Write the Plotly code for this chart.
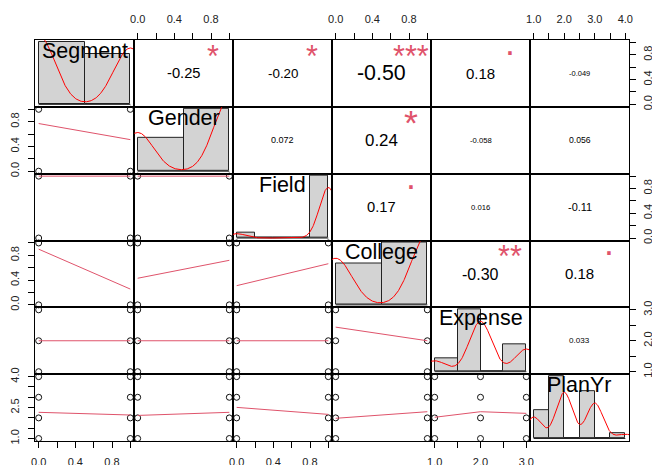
import numpy as np
import plotly.graph_objects as go
from plotly.subplots import make_subplots

# ---------------- data ----------------
var_names = ["Segment", "Gender", "Field", "College", "Expense", "PlanYr"]

segment_vals = [0, 1];        segment_counts = [55, 45]
gender_vals = [0, 1];         gender_counts = [35, 65]
field_vals = [0, 1];          field_counts = [8, 92]
college_vals = [0, 1];        college_counts = [40, 60]
expense_vals = [1, 2, 3];     expense_counts = [13, 60, 27]
planyr_vals = [1, 2, 3, 4];   planyr_counts = [20, 43, 33, 4]

segment_breaks = [0, 0.5, 1.0]
gender_breaks = [0, 0.5, 1.0]
field_breaks = [0, 0.2, 0.4, 0.6, 0.8, 1.0]
college_breaks = [0, 0.5, 1.0]
expense_breaks = [1.0, 1.5, 2.0, 2.5, 3.0]
planyr_breaks = [1.0, 1.5, 2.0, 2.5, 3.0, 3.5, 4.0]

bandwidth_override = {"Expense": 0.245}

# correlations (upper triangle, row by row)
corr_values = [-0.25, -0.20, -0.50, 0.18, -0.049,
               0.072, 0.24, -0.058, 0.056,
               0.17, 0.016, -0.11,
               -0.30, 0.18,
               0.033]
corr_labels = ["-0.25", "-0.20", "-0.50", "0.18", "-0.049",
               "0.072", "0.24", "-0.058", "0.056",
               "0.17", "0.016", "-0.11",
               "-0.30", "0.18",
               "0.033"]
corr_signif = ["*", "*", "***", ".", "",
               "", "*", "", "",
               ".", "", "",
               "**", ".",
               ""]

# lowess fitted values at the unique x values of each lower panel (row, col)
smooth_2_1 = [0.77, 0.51]
smooth_3_1 = [1.0, 1.0]
smooth_3_2 = [1.0, 1.0]
smooth_4_1 = [0.90, 0.255]
smooth_4_2 = [0.43, 0.72]
smooth_4_3 = [0.31, 0.665]
smooth_5_1 = [2.0, 2.0]
smooth_5_2 = [2.0, 2.0]
smooth_5_3 = [2.0, 2.0]
smooth_5_4 = [2.44, 2.0]
smooth_6_1 = [2.27, 2.14]
smooth_6_2 = [2.12, 2.27]
smooth_6_3 = [2.51, 2.17]
smooth_6_4 = [1.98, 2.30]
smooth_6_5 = [2.03, 2.30, 2.22]

# axis ticks
unit_ticks = [0, 0.2, 0.4, 0.6, 0.8, 1.0]
unit_ticktext = ["0.0", "", "0.4", "", "0.8", ""]
expense_ticks = [1.0, 1.5, 2.0, 2.5, 3.0]
expense_ticktext = ["1.0", "", "2.0", "", "3.0"]
planyr_ticks = [1.0, 1.5, 2.0, 2.5, 3.0, 3.5, 4.0]
planyr_xticktext = ["1.0", "", "2.0", "", "3.0", "", "4.0"]
planyr_yticktext = ["1.0", "", "", "2.5", "", "", "4.0"]

# ---------------- assemble ----------------
vals = [segment_vals, gender_vals, field_vals, college_vals, expense_vals, planyr_vals]
counts = [segment_counts, gender_counts, field_counts, college_counts, expense_counts, planyr_counts]
breaks = [segment_breaks, gender_breaks, field_breaks, college_breaks, expense_breaks, planyr_breaks]
smooth = {(2, 1): smooth_2_1, (3, 1): smooth_3_1, (3, 2): smooth_3_2,
          (4, 1): smooth_4_1, (4, 2): smooth_4_2, (4, 3): smooth_4_3,
          (5, 1): smooth_5_1, (5, 2): smooth_5_2, (5, 3): smooth_5_3, (5, 4): smooth_5_4,
          (6, 1): smooth_6_1, (6, 2): smooth_6_2, (6, 3): smooth_6_3, (6, 4): smooth_6_4,
          (6, 5): smooth_6_5}
xticks_all = [(unit_ticks, unit_ticktext)] * 4 + [(expense_ticks, expense_ticktext),
                                                  (planyr_ticks, planyr_xticktext)]
yticks_all = [(unit_ticks, unit_ticktext)] * 4 + [(expense_ticks, expense_ticktext),
                                                  (planyr_ticks, planyr_yticktext)]

N = 6
FONT = "Liberation Sans, Arial, sans-serif"
PANEL_W = (652 - 35 - 23) / N
SMOOTH_COL = "#DF536B"
CW = {c: 0.556 for c in "0123456789"}
CW.update({"-": 0.333, ".": 0.278})


def em_width(s):
    return sum(CW.get(c, 0.556) for c in s)


def padded(lo, hi):
    d = hi - lo
    return [lo - 0.04 * d, hi + 0.04 * d]


def kde(v, c, bw=None):
    x = np.repeat(np.array(v, float), c)
    n = len(x)
    if bw is None:
        hi = x.std(ddof=1)
        q25, q75 = np.quantile(x, [0.25, 0.75])
        lo = min(hi, (q75 - q25) / 1.34)
        if lo == 0:
            lo = hi
        bw = 0.9 * lo * n ** -0.2
    g = np.linspace(x.min() - 3 * bw, x.max() + 3 * bw, 512)
    d = np.zeros_like(g)
    for vv, cc in zip(v, c):
        d += cc * np.exp(-0.5 * ((g - vv) / bw) ** 2) / (bw * np.sqrt(2 * np.pi))
    return g, d / n


def hist(v, c, b):
    b = np.array(b, float)
    h = np.zeros(len(b) - 1)
    for vv, cc in zip(v, c):
        i = max(np.searchsorted(b, vv, side="left") - 1, 0)
        h[i] += cc
    n = sum(c)
    return b, h / (n * np.diff(b))


fig = make_subplots(rows=N, cols=N, horizontal_spacing=0, vertical_spacing=0)


def axname(r, c, a):
    k = (r - 1) * N + c
    return a if k == 1 else f"{a}{k}"


annotations = []
ui = 0
for r in range(1, N + 1):
    for c in range(1, N + 1):
        xr = padded(min(vals[c - 1]), max(vals[c - 1]))
        yr = padded(min(vals[r - 1]), max(vals[r - 1]))
        if r == c:
            b, dens = hist(vals[r - 1], counts[r - 1], breaks[r - 1])
            xr = padded(b[0], b[-1])
            yr = padded(0, dens.max())
            centers = (b[:-1] + b[1:]) / 2
            fig.add_trace(go.Bar(x=centers, y=dens, width=np.diff(b),
                                 marker=dict(color="#D3D3D3", line=dict(color="#222", width=1)),
                                 hoverinfo="skip"), row=r, col=c)
            fig.add_trace(go.Scatter(x=[b[0], b[-1]], y=[0, 0], mode="lines",
                                     line=dict(color="#222", width=1), hoverinfo="skip"),
                          row=r, col=c)
            g, d = kde(vals[r - 1], counts[r - 1], bandwidth_override.get(var_names[r - 1]))
            fig.add_trace(go.Scatter(x=g, y=d, mode="lines", line=dict(color="red", width=1),
                                     hoverinfo="skip"), row=r, col=c)
            annotations.append(dict(text=var_names[r - 1], x=0.5, y=0.833,
                                    xref=axname(r, c, "x") + " domain",
                                    yref=axname(r, c, "y") + " domain",
                                    showarrow=False, xanchor="center", yanchor="middle",
                                    font=dict(family=FONT, size=21.5, color="black")))
        elif r > c:
            px, py = np.meshgrid(vals[c - 1], vals[r - 1])
            fig.add_trace(go.Scatter(x=px.ravel(), y=py.ravel(), mode="markers",
                                     marker=dict(symbol="circle-open", size=6, color="#111",
                                                 line=dict(width=1)),
                                     cliponaxis=False, hoverinfo="skip"), row=r, col=c)
            fig.add_trace(go.Scatter(x=vals[c - 1], y=smooth[(r, c)], mode="lines",
                                     line=dict(color=SMOOTH_COL, width=1), hoverinfo="skip"),
                          row=r, col=c)
        else:
            # invisible anchor trace so the empty panel and its axes are drawn
            fig.add_trace(go.Scatter(x=[np.mean(xr)], y=[np.mean(yr)], mode="markers",
                                     marker=dict(size=1, opacity=0), hoverinfo="skip"),
                          row=r, col=c)
            rv = corr_values[ui]
            lab = corr_labels[ui]
            sig = corr_signif[ui]
            ui += 1
            emw = em_width(lab)
            size_main = 0.8 * PANEL_W * (abs(rv) + 0.3) / 1.3 / emw
            annotations.append(dict(text=lab, x=0.5, y=0.5,
                                    xref=axname(r, c, "x") + " domain",
                                    yref=axname(r, c, "y") + " domain",
                                    showarrow=False, xanchor="center", yanchor="middle",
                                    font=dict(family=FONT, size=size_main, color="black")))
            if sig:
                size_sig = 0.88 * 0.8 * PANEL_W / emw
                shift = -0.08 * size_sig if "*" in sig else 0.29 * size_sig
                annotations.append(dict(text=sig, x=0.8, y=0.8,
                                        xref=axname(r, c, "x") + " domain",
                                        yref=axname(r, c, "y") + " domain",
                                        showarrow=False, xanchor="center", yanchor="middle",
                                        yshift=shift,
                                        font=dict(family=FONT, size=size_sig, color=SMOOTH_COL)))

        # axes
        xa = dict(range=xr, showgrid=False, zeroline=False, showline=True, mirror=True,
                  linecolor="black", linewidth=1, showticklabels=False, ticks="",
                  automargin=False)
        ya = dict(range=yr, showgrid=False, zeroline=False, showline=True, mirror=True,
                  linecolor="black", linewidth=1, showticklabels=False, ticks="",
                  automargin=False)
        tick_common = dict(ticks="outside", ticklen=6, tickwidth=1, tickcolor="black",
                           showticklabels=True, tickmode="array",
                           tickfont=dict(family=FONT, size=11, color="#222"))
        if (r == 1 and c % 2 == 0) or (r == N and c % 2 == 1):
            tv, tt = xticks_all[c - 1]
            xa.update(tick_common, tickvals=tv, ticktext=tt, side="top" if r == 1 else "bottom",
                      tickangle=0, ticklabelstandoff=6 if r == 1 else 5)
        if (c == 1 and r % 2 == 0) or (c == N and r % 2 == 1):
            tv, tt = yticks_all[r - 1]
            ya.update(tick_common, tickvals=tv, ticktext=tt, side="left" if c == 1 else "right",
                      tickangle=-90, ticklabelstandoff=5 if c == 1 else 3)
        fig.update_xaxes(xa, row=r, col=c)
        fig.update_yaxes(ya, row=r, col=c)

fig.update_layout(width=652, height=465, margin=dict(l=35, r=23, t=40, b=24),
                  plot_bgcolor="white", paper_bgcolor="white", showlegend=False,
                  bargap=0, annotations=annotations)
fig.write_html("out.html", config={"displayModeBar": False},
               post_script="document.body.style.margin='0';document.body.style.overflow='hidden';")
